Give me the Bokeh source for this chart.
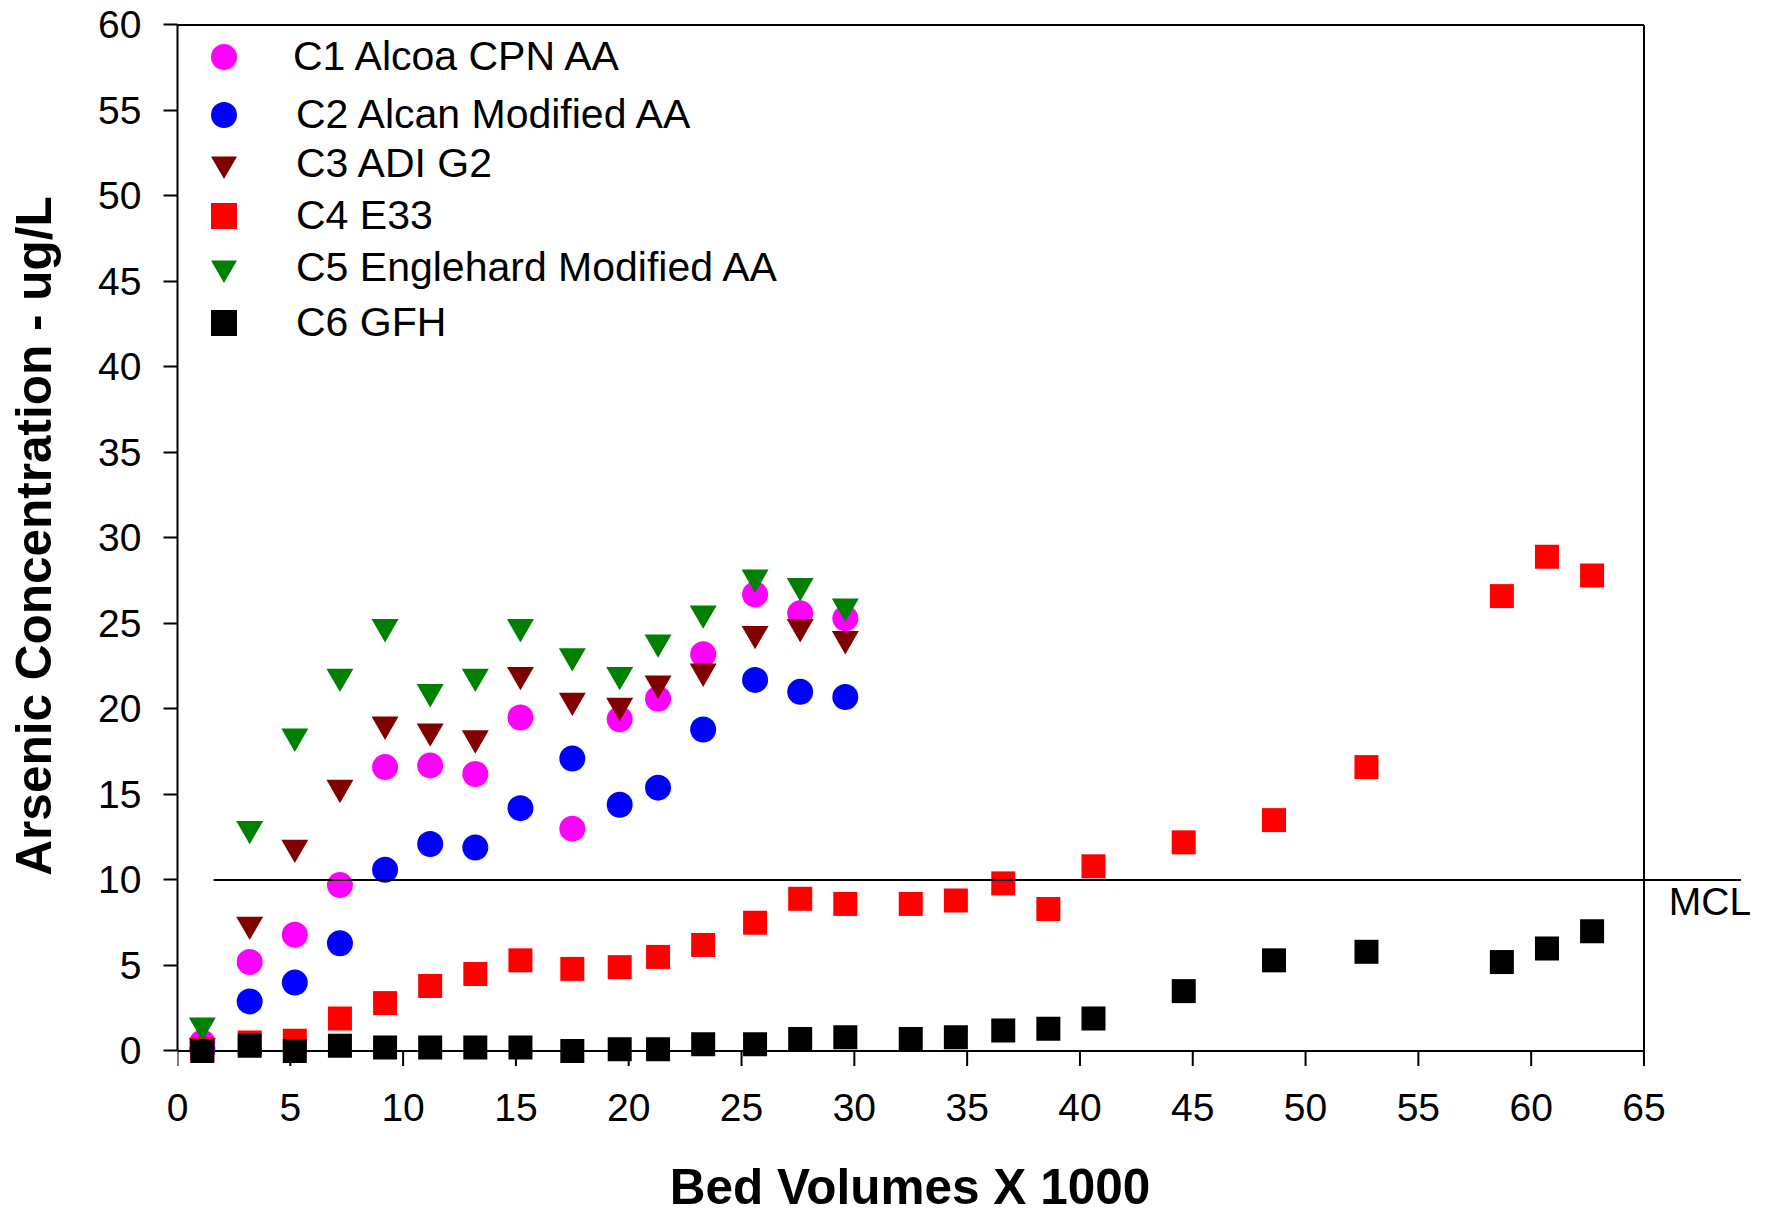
from bokeh.plotting import figure
from bokeh.models import Range1d, FixedTicker, Legend, LegendItem, Label
from bokeh.embed import file_html
from bokeh.resources import INLINE

# ---------------- data ----------------
bv_short = [1.1, 3.2, 5.2, 7.2, 9.2, 11.2, 13.2, 15.2, 17.5, 19.6, 21.3, 23.3, 25.6, 27.6, 29.6]
bv_long = bv_short + [32.5, 34.5, 36.6, 38.6, 40.6, 44.6, 48.6, 52.7, 58.7, 60.7, 62.7]

c1_alcoa = [0.5, 5.2, 6.8, 9.7, 16.6, 16.7, 16.2, 19.5, 13.0, 19.4, 20.6, 23.2, 26.7, 25.6, 25.3]
c2_alcan = [0.1, 2.9, 4.0, 6.3, 10.6, 12.1, 11.9, 14.2, 17.1, 14.4, 15.4, 18.8, 21.7, 21.0, 20.7]
c3_adi = [0.3, 7.4, 11.9, 15.4, 19.1, 18.7, 18.3, 22.0, 20.5, 20.2, 21.5, 22.2, 24.4, 24.8, 24.1]
c4_e33 = [0.1, 0.5, 0.6, 1.9, 2.8, 3.8, 4.5, 5.3, 4.8, 4.9, 5.5, 6.2, 7.5, 8.9, 8.6,
          8.6, 8.8, 9.8, 8.3, 10.8, 12.2, 13.5, 16.6, 26.6, 28.9, 27.8]
c5_englehard = [1.5, 13.0, 18.4, 21.9, 24.8, 21.0, 21.9, 24.8, 23.1, 22.0, 23.9, 25.6, 27.7, 27.2, 26.0]
c6_gfh = [0.0, 0.3, 0.0, 0.3, 0.2, 0.2, 0.2, 0.2, 0.0, 0.1, 0.1, 0.4, 0.4, 0.7, 0.8,
          0.7, 0.8, 1.2, 1.3, 1.9, 3.5, 5.3, 5.8, 5.2, 6.0, 7.0]

series_names = ["C1 Alcoa CPN AA", "C2 Alcan Modified AA", "C3 ADI G2", "C4 E33",
                "C5 Englehard Modified AA", "C6 GFH"]
x_ticks = list(range(0, 66, 5))
y_ticks = list(range(0, 61, 5))
mcl_value = 10
mcl_span = [1.6, 69.3]

X_MAX = 65
Y_MAX = 60
FONT = "Liberation Sans"

p = figure(width=1768, height=1217, output_backend="svg", toolbar_location=None,
           x_range=Range1d(0, 69.81), y_range=Range1d(-1.2, 61.43),
           min_border_left=177, min_border_right=16, min_border_top=0, min_border_bottom=146)
p.outline_line_color = None
p.xgrid.visible = False
p.ygrid.visible = False
p.background_fill_color = "white"

# frame lines / x-axis line and tick marks (the box stops at x = 65)
tick_len = 15 / 17.1
p.segment(x0=x_ticks, y0=[0] * len(x_ticks), x1=x_ticks, y1=[-tick_len] * len(x_ticks),
          line_color="black", line_width=2)
p.segment(x0=[0, 0, X_MAX], y0=[0, Y_MAX, -tick_len], x1=[X_MAX, X_MAX, X_MAX], y1=[0, Y_MAX, Y_MAX],
          line_color="black", line_width=2)

r1 = p.scatter(bv_short, c1_alcoa, marker="circle", size=26, fill_color="#FF00FF", line_color=None)
r2 = p.scatter(bv_short, c2_alcan, marker="circle", size=26, fill_color="#0000FF", line_color=None)
r3 = p.scatter(bv_short, c3_adi, marker="inverted_triangle", size=27, fill_color="#800000", line_color=None)
r4 = p.scatter(bv_long, c4_e33, marker="square", size=24, fill_color="#FF0000", line_color=None)
r5 = p.scatter(bv_short, c5_englehard, marker="inverted_triangle", size=27, fill_color="#008000", line_color=None)
r6 = p.scatter(bv_long, c6_gfh, marker="square", size=24, fill_color="#000000", line_color=None)

# MCL line (runs past the right side of the box, as in the reference) and its label
p.line(mcl_span, [mcl_value, mcl_value], line_color="black", line_width=2)
p.add_layout(Label(x=66.1, y=8.73, text="MCL", text_font=FONT, text_font_size="39px",
                   text_baseline="alphabetic", text_color="black"))

# axes
xa = p.xaxis[0]
xa.ticker = FixedTicker(ticks=x_ticks)
xa.bounds = (0, X_MAX)
xa.axis_line_color = None
xa.major_tick_line_color = None
xa.major_tick_out = 0
xa.major_tick_in = 0
xa.minor_tick_line_color = None
xa.major_label_text_font = FONT
xa.major_label_text_font_size = "39px"
xa.major_label_text_color = "black"
xa.major_label_standoff = 22
# trailing no-break spaces centre the visible title under the 0-65 box rather than the whole frame
xa.axis_label = "Bed Volumes X 1000" + "\u00a0" * 8
xa.axis_label_text_font = FONT
xa.axis_label_text_font_size = "49.5px"
xa.axis_label_text_font_style = "bold"
xa.axis_label_text_color = "black"
xa.axis_label_standoff = 35

ya = p.yaxis[0]
ya.ticker = FixedTicker(ticks=y_ticks)
ya.bounds = (0, Y_MAX)
ya.axis_line_width = 2
ya.major_tick_line_width = 2
ya.major_tick_out = 14
ya.major_tick_in = 0
ya.minor_tick_line_color = None
ya.major_label_text_font = FONT
ya.major_label_text_font_size = "39px"
ya.major_label_text_color = "black"
ya.major_label_standoff = 22
ya.axis_label = "Arsenic Concentration - ug/L"
ya.axis_label_text_font = FONT
ya.axis_label_text_font_size = "49.5px"
ya.axis_label_text_font_style = "bold"
ya.axis_label_text_color = "black"
ya.axis_label_standoff = 34

# legend: one single-row legend per series so that the rows sit where the reference has them
frame_bottom_px = 1071
row_centers_px = [56.7, 114.3, 163, 215.5, 267, 322]
standoffs = [37, 40, 40, 40, 40, 40]
for name, rend, cy, so in zip(series_names, [r1, r2, r3, r4, r5, r6], row_centers_px, standoffs):
    lg = Legend(items=[LegendItem(label=name, renderers=[rend])],
                location=(14, frame_bottom_px - (cy + 32.5)), glyph_width=65, glyph_height=65,
                spacing=0, padding=0, margin=0, label_standoff=so, border_line_color=None,
                background_fill_alpha=0, label_text_font=FONT, label_text_font_size="41px",
                label_text_color="black")
    p.add_layout(lg)

open("out.html", "w").write(file_html(p, INLINE))
